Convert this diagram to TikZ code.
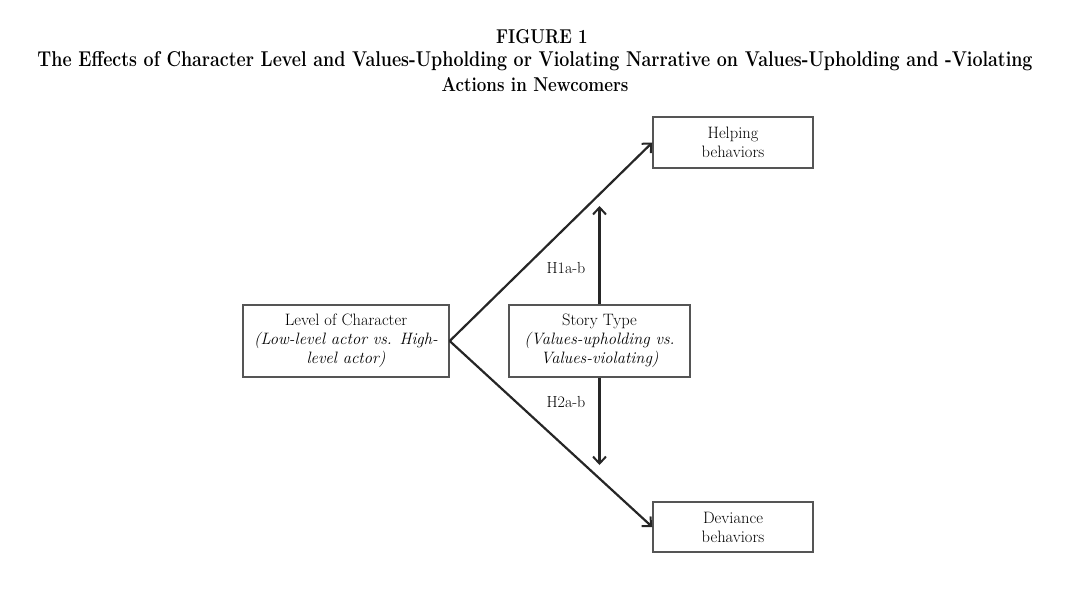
\documentclass[tikz,border=0pt]{standalone}
\usetikzlibrary{arrows.meta}
\definecolor{boxgray}{HTML}{555555}
\definecolor{arrowgray}{HTML}{262626}
\begin{document}
\begin{tikzpicture}[x=1pt,y=-1pt,
  box/.style={draw=boxgray,line width=1.4pt,rectangle,inner sep=0pt,align=center,
    font=\fontsize{16.5}{19}\selectfont,text=black},
  conn/.style={draw=arrowgray,line width=2.2pt,-{Straight Barb[length=7pt,width=13pt,line width=2pt]}},
  lbl/.style={font=\fontsize{16}{18}\selectfont,text=black},
  ttl/.style={font=\bfseries\fontsize{20}{22}\selectfont,inner sep=0pt}]
\useasboundingbox (0,0) rectangle (1084,603);
\node[ttl] (t1) at (542,37) {\scalebox{0.85}[1]{FIGURE 1}};
\node[ttl] (t2) at (535,61) {\resizebox{995pt}{15pt}{The Effects of Character Level and Values-Upholding or Violating Narrative on Values-Upholding and -Violating}};
\node[ttl] (t3) at (535,85) {\scalebox{0.85}[1]{Actions in Newcomers}};
\node[box,minimum width=206pt,minimum height=72pt] (lev) at (346,341)
  {Level of Character\\\textit{(Low-level actor vs. High-}\\\textit{level actor)}};
\node[box,minimum width=181pt,minimum height=72pt] (story) at (599.5,341)
  {Story Type\\\textit{(Values-upholding vs.}\\\textit{Values-violating)}};
\node[box,minimum width=160pt,minimum height=51pt] (help) at (733,142.5)
  {Helping\\behaviors};
\node[box,minimum width=160pt,minimum height=50pt] (dev) at (733,527)
  {Deviance\\behaviors};
\coordinate (upend) at (599.5,206);
\coordinate (downend) at (599.5,465);
\draw[conn] (lev.east) -- (help.west);
\draw[conn] (lev.east) -- (dev.west);
\draw[conn] (story.north) -- (upend);
\draw[conn] (story.south) -- (downend);
\node[lbl] (h1) at (566,268) {H1a-b};
\node[lbl] (h2) at (566,402) {H2a-b};
\end{tikzpicture}
\end{document}
